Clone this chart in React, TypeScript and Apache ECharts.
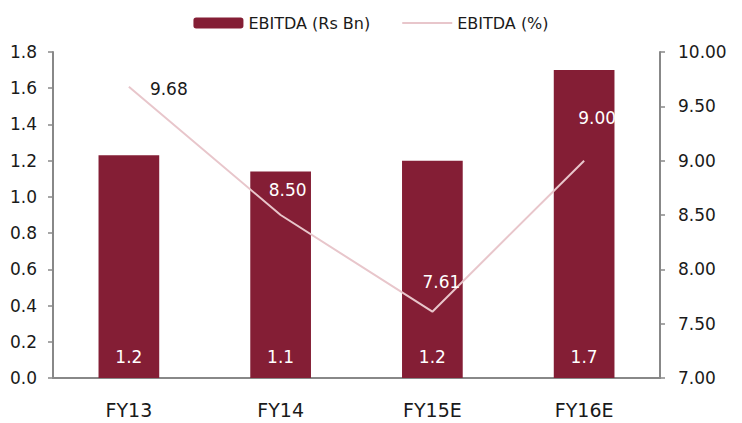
import React, { useEffect, useRef } from "react";
import * as echarts from "echarts";

const categories = ["FY13", "FY14", "FY15E", "FY16E"];
const ebitdaBn = [1.23, 1.14, 1.2, 1.7];
const ebitdaPct = [9.68, 8.5, 7.61, 9.0];
const leftTicks = { min: 0, max: 1.8, interval: 0.2 };
const rightTicks = { min: 7, max: 10, interval: 0.5 };

const FONT = "DejaVu Sans";
const LINE_COLOR = "#e8c6cb";

export default function App() {
  const ref = useRef<HTMLDivElement>(null);
  useEffect(() => {
    const chart = echarts.init(ref.current!, null, { renderer: "svg" });
    const lineLabels = [
      { position: "right", offset: [15, 2], color: "#1a1a1a" },
      { position: "top", offset: [7, -11], color: "#ffffff" },
      { position: "top", offset: [9, -15], color: "#ffffff" },
      { position: "top", offset: [13, -28], color: "#ffffff" },
    ];
    chart.setOption({
      animation: false,
      textStyle: { fontFamily: FONT },
      legend: {
        top: 10,
        left: "center",
        itemWidth: 50,
        itemHeight: 11,
        itemGap: 32,
        textStyle: { fontSize: 16, color: "#1a1a1a", fontFamily: FONT },
        data: [
          { name: "EBITDA (Rs Bn)" },
          { name: "EBITDA (%)", icon: "path://M0,0 L50,0 L50,2 L0,2 Z" },
        ],
      },
      grid: { left: 53, right: 82, top: 52, bottom: 45 },
      xAxis: {
        type: "category",
        data: categories,
        axisLine: { lineStyle: { color: "#888", width: 2 } },
        axisTick: { show: false },
        axisLabel: { fontSize: 19, color: "#1a1a1a", margin: 22, fontFamily: FONT },
      },
      yAxis: [
        {
          type: "value",
          ...leftTicks,
          position: "left",
          splitLine: { show: false },
          axisLine: { show: true, lineStyle: { color: "#888", width: 2 } },
          axisTick: { show: true, length: 5, lineStyle: { color: "#888", width: 1.5 } },
          axisLabel: {
            fontSize: 17,
            color: "#1a1a1a",
            margin: 16,
            fontFamily: FONT,
            formatter: (v: number) => v.toFixed(1),
          },
        },
        {
          type: "value",
          ...rightTicks,
          position: "right",
          splitLine: { show: false },
          axisLine: { show: true, lineStyle: { color: "#888", width: 2 } },
          axisTick: { show: true, length: 5, lineStyle: { color: "#888", width: 1.5 } },
          axisLabel: {
            fontSize: 17,
            color: "#1a1a1a",
            margin: 18,
            fontFamily: FONT,
            formatter: (v: number) => v.toFixed(2),
          },
        },
      ],
      series: [
        {
          name: "EBITDA (Rs Bn)",
          type: "bar",
          yAxisIndex: 0,
          data: ebitdaBn,
          barWidth: "40%",
          itemStyle: { color: "#841e35" },
          label: {
            show: true,
            position: "insideBottom",
            distance: 13,
            color: "#ffffff",
            fontSize: 17,
            fontFamily: FONT,
            formatter: (p: any) => Number(p.value).toFixed(1),
          },
        },
        {
          name: "EBITDA (%)",
          type: "line",
          yAxisIndex: 1,
          symbol: "none",
          lineStyle: { color: LINE_COLOR, width: 2 },
          itemStyle: { color: LINE_COLOR },
          data: ebitdaPct,
        },
        {
          name: "EBITDA (%) labels",
          type: "scatter",
          yAxisIndex: 1,
          symbolSize: 2,
          itemStyle: { color: "rgba(0,0,0,0)", opacity: 1 },
          silent: true,
          z: 5,
          data: ebitdaPct.map((v, i) => ({
            value: v,
            label: {
              show: true,
              fontSize: 17,
              fontFamily: FONT,
              opacity: 1,
              formatter: (p: any) => Number(p.value).toFixed(2),
              ...lineLabels[i],
            },
          })),
        },
      ],
    });
    return () => chart.dispose();
  }, []);
  return <div ref={ref} style={{ width: 742, height: 423, position: "absolute", left: 0, top: 0 }} />;
}
